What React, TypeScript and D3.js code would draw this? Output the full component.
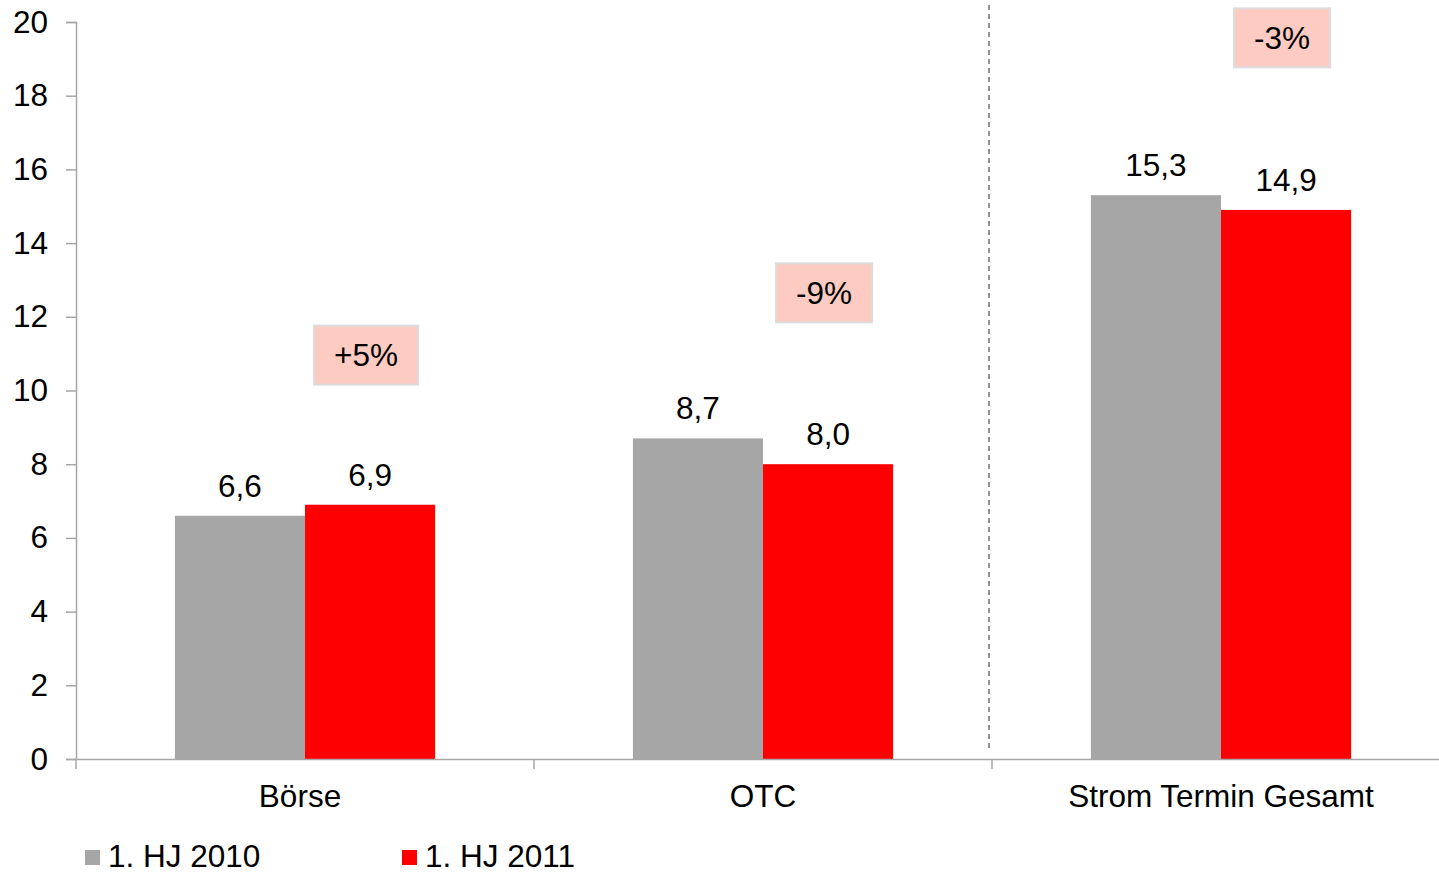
import React, { useRef, useEffect } from "react";
import * as d3 from "d3";

const categories = ["Börse", "OTC", "Strom Termin Gesamt"];
const seriesNames = ["1. HJ 2010", "1. HJ 2011"];
const values2010 = [6.6, 8.7, 15.3];
const values2011 = [6.9, 8.0, 14.9];
const valueLabels2010 = ["6,6", "8,7", "15,3"];
const valueLabels2011 = ["6,9", "8,0", "14,9"];
const changeLabels = ["+5%", "-9%", "-3%"];
const changeLevels = [10.96, 12.65, 19.57];
const yTicks = [0, 2, 4, 6, 8, 10, 12, 14, 16, 18, 20];
const colors = ["#a6a6a6", "#ff0000"];

const FONT = "'Liberation Sans', Arial, sans-serif";
const FS = 31.5;

const App = () => {
  const ref = useRef(null);

  useEffect(() => {
    const svg = d3.select(ref.current);
    svg.selectAll("*").remove();

    const left = 76;
    const bottom = 759;
    const top = 22;

    const x0 = d3.scaleBand().domain(categories).range([left, 1450]).padding(0);
    const x1 = d3
      .scaleBand()
      .domain(seriesNames)
      .range([0, x0.bandwidth()])
      .paddingInner(0)
      .paddingOuter(0.76);
    const y = d3.scaleLinear().domain([0, 20]).range([bottom, top]);

    const axisColor = "#a6a6a6";

    // y axis
    const yAxis = svg
      .append("g")
      .attr("transform", `translate(${left},0)`)
      .call(d3.axisLeft(y).tickValues(yTicks).tickSize(10).tickPadding(18));
    yAxis.select(".domain").attr("stroke", axisColor).attr("stroke-width", 1.5);
    yAxis.selectAll(".tick line").attr("stroke", axisColor).attr("stroke-width", 1.5);
    yAxis
      .selectAll(".tick text")
      .attr("font-family", FONT)
      .attr("font-size", FS)
      .attr("fill", "#000");

    // bars
    const data = categories.map((c, i) => ({
      cat: c,
      vals: [values2010[i], values2011[i]],
      labels: [valueLabels2010[i], valueLabels2011[i]],
    }));

    const groups = svg
      .append("g")
      .selectAll("g")
      .data(data)
      .join("g")
      .attr("transform", (d) => `translate(${x0(d.cat)},0)`);

    groups
      .selectAll("rect")
      .data((d) => d.vals.map((v, j) => ({ v, s: seriesNames[j], j })))
      .join("rect")
      .attr("x", (d) => x1(d.s))
      .attr("y", (d) => y(d.v))
      .attr("width", x1.bandwidth())
      .attr("height", (d) => y(0) - y(d.v))
      .attr("fill", (d) => colors[d.j]);

    groups
      .selectAll("text")
      .data((d) => d.vals.map((v, j) => ({ v, s: seriesNames[j], label: d.labels[j] })))
      .join("text")
      .attr("x", (d) => x1(d.s) + x1.bandwidth() / 2)
      .attr("y", (d) => y(d.v) - 19)
      .attr("text-anchor", "middle")
      .attr("font-family", FONT)
      .attr("font-size", FS)
      .attr("fill", "#000")
      .text((d) => d.label);

    // x axis
    const xAxis = svg
      .append("g")
      .attr("transform", `translate(0,${bottom})`)
      .call(d3.axisBottom(x0).tickSize(0).tickPadding(26));
    xAxis.select(".domain").attr("stroke", axisColor).attr("stroke-width", 1.5);
    xAxis
      .selectAll(".tick text")
      .attr("font-family", FONT)
      .attr("font-size", FS)
      .attr("fill", "#000")
      .attr("dx", (d, i) => (i === 0 ? -5 : 0));
    svg
      .append("g")
      .selectAll("line")
      .data(categories)
      .join("line")
      .attr("x1", (d) => x0(d))
      .attr("x2", (d) => x0(d))
      .attr("y1", bottom)
      .attr("y2", bottom + 10)
      .attr("stroke", axisColor)
      .attr("stroke-width", 1.5);

    // dashed divider
    const divX = x0(categories[2]) - 3;
    svg
      .append("line")
      .attr("x1", divX)
      .attr("x2", divX)
      .attr("y1", 5)
      .attr("y2", bottom - 9)
      .attr("stroke", "#707070")
      .attr("stroke-width", 1.5)
      .attr("stroke-dasharray", "5,4");

    // change boxes
    changeLabels.forEach((lab, i) => {
      const cx = x0(categories[i]) + x1(seriesNames[1]) + x1.bandwidth() / 2 - 4;
      const cy = y(changeLevels[i]);
      const g = svg.append("g");
      const rect = g.append("rect");
      const t = g
        .append("text")
        .attr("x", cx)
        .attr("y", cy + 11)
        .attr("text-anchor", "middle")
        .attr("font-family", FONT)
        .attr("font-size", FS)
        .attr("fill", "#000")
        .text(lab);
      const w = t.node().getComputedTextLength() + 40;
      rect
        .attr("x", cx - w / 2)
        .attr("y", cy - 29.5)
        .attr("width", w)
        .attr("height", 59)
        .attr("fill", "#fdcbc1")
        .attr("stroke", "#dcdcdc")
        .attr("stroke-width", 2);
    });

    // legend
    const legendX = [85, 402];
    const legend = svg
      .append("g")
      .selectAll("g")
      .data(seriesNames)
      .join("g")
      .attr("transform", (d, i) => `translate(${legendX[i]},850)`);
    legend
      .append("rect")
      .attr("width", 15)
      .attr("height", 15)
      .attr("fill", (d, i) => colors[i]);
    legend
      .append("text")
      .attr("x", 23)
      .attr("y", 17)
      .attr("font-family", FONT)
      .attr("font-size", FS)
      .attr("fill", "#000")
      .text((d) => d);
  }, []);

  return (
    <svg
      ref={ref}
      width={1439}
      height={873}
      style={{ position: "absolute", left: 0, top: 0, background: "#fff" }}
    />
  );
};

export default App;
